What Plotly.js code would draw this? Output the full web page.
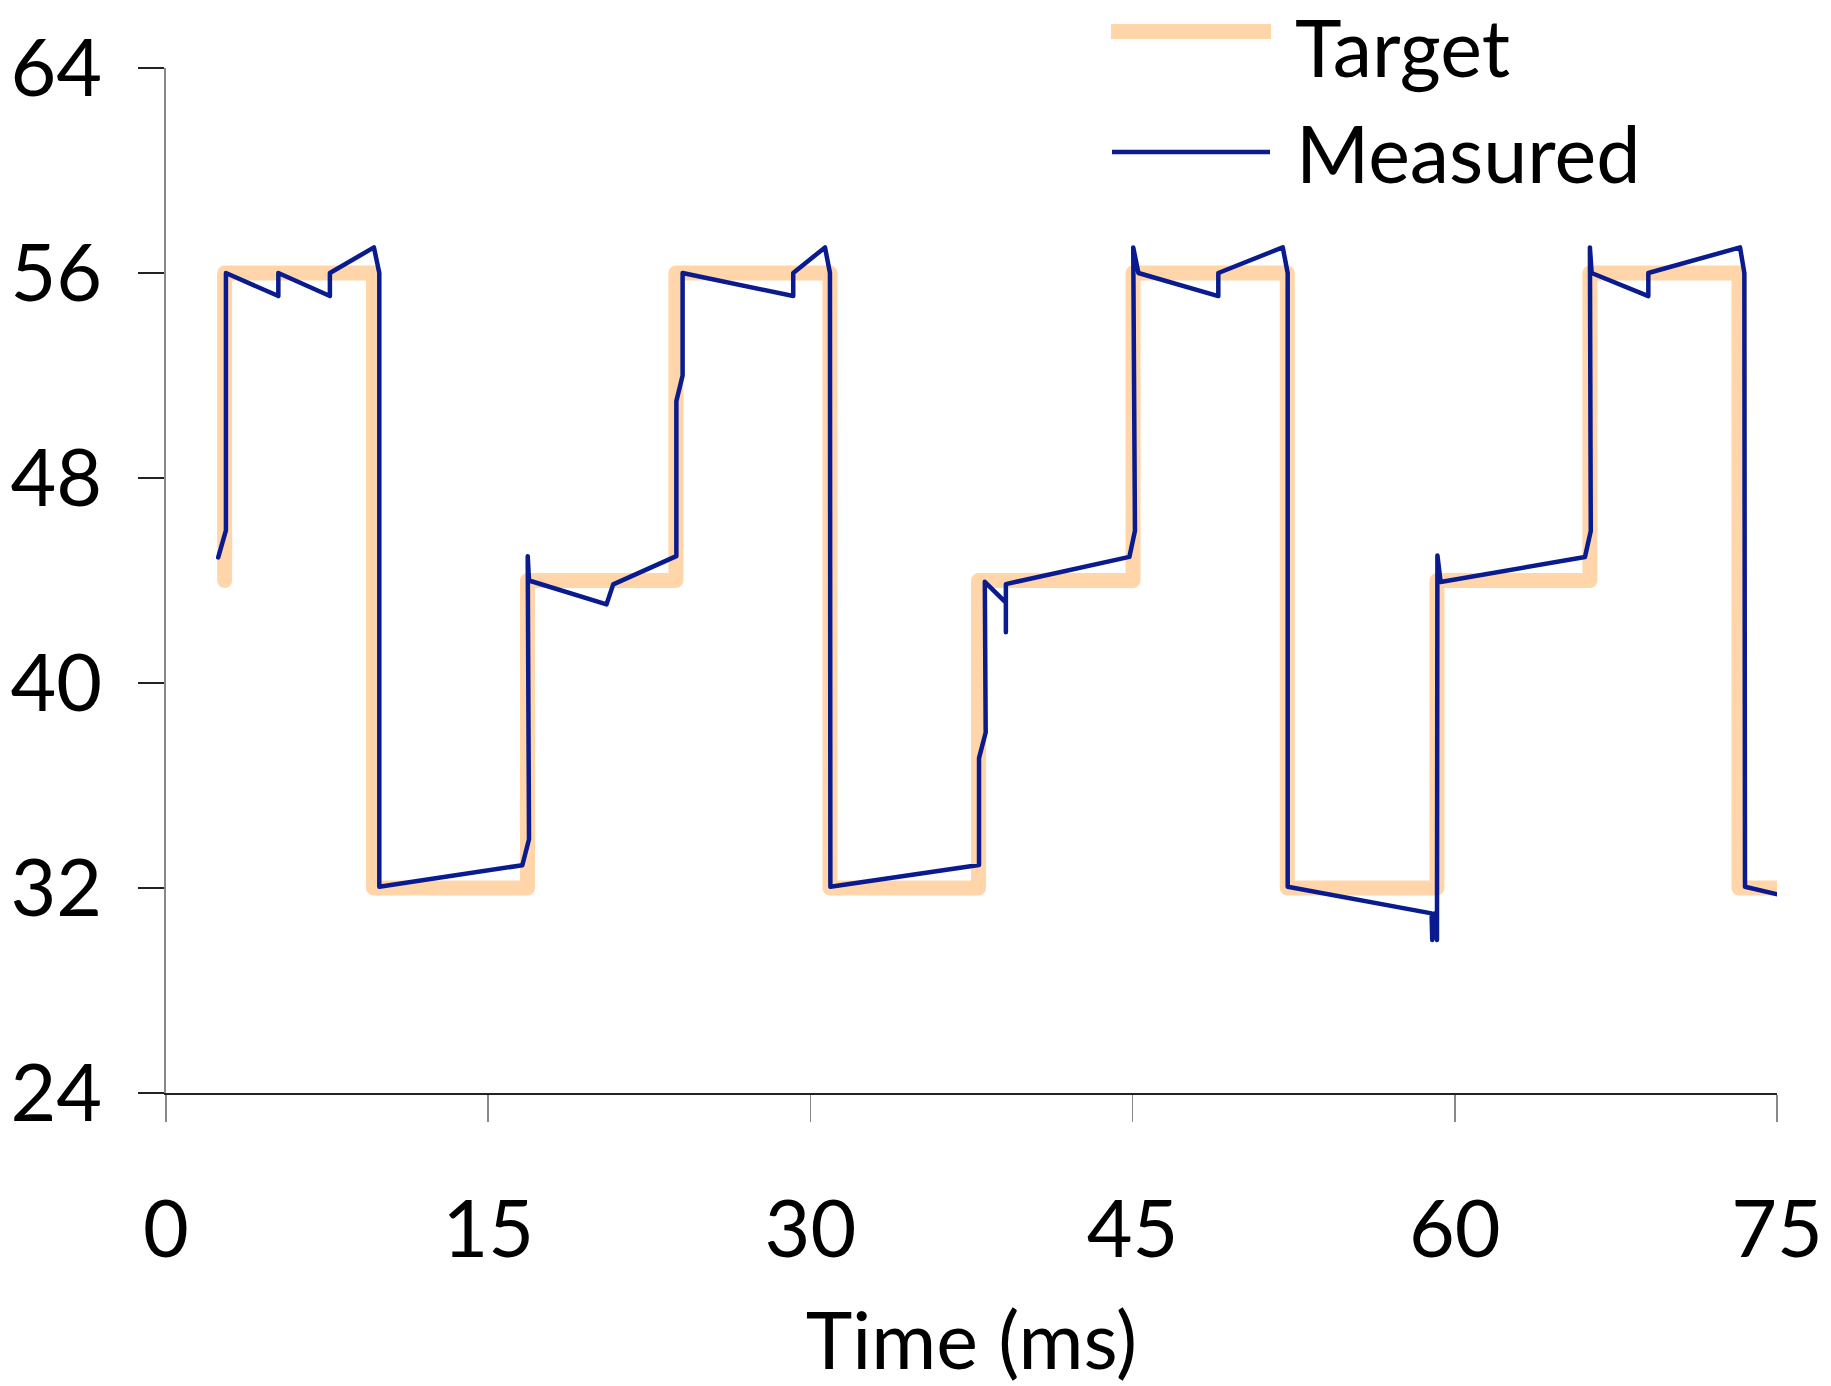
<!DOCTYPE html>
<html>
<head>
<meta charset="utf-8">
<script src="https://cdn.plot.ly/plotly-3.0.1.min.js"></script>
<style>
html, body { margin: 0; padding: 0; background: #ffffff; }
#chart { width: 1831px; height: 1386px; }
.js-line { stroke-linejoin: round !important; stroke-linecap: round !important; }
</style>
</head>
<body>
<div id="chart"></div>
<script>
// ---- data ----
const targetTime  = [2.73, 2.73, 9.66, 9.66, 16.83, 16.83, 23.74, 23.74, 30.91, 30.91, 37.83, 37.83, 45.02, 45.02, 52.2, 52.2, 59.17, 59.17, 66.29, 66.29, 73.23, 73.23, 75.0];
const targetValue = [44, 56, 56, 32, 32, 44, 44, 56, 56, 32, 32, 44, 44, 56, 56, 32, 32, 44, 44, 56, 56, 32, 32];

const measuredTime = [
  2.43, 2.79, 2.79, 5.23, 5.23, 7.63, 7.63, 9.68, 9.93,
  9.93, 16.59, 16.9, 16.84, 16.9,
  20.51, 20.82, 23.76,
  23.76, 24.05, 24.05, 29.2, 29.2, 30.68, 30.91,
  30.93, 37.85, 37.85, 38.16, 38.12, 39.1, 39.1, 39.1,
  44.85, 45.11,
  45.03, 45.27, 48.99, 48.99, 51.99, 52.22,
  52.22, 58.92, 58.95, 59.05, 59.17, 59.19, 59.34,
  66.06, 66.33,
  66.29, 66.37, 69.01, 69.01, 73.28, 73.48,
  73.51, 75.29
];
const measuredValue = [
  44.9, 45.96, 56.0, 55.1, 56.0, 55.1, 56.0, 57.0, 56.0,
  32.05, 32.89, 33.9, 44.95, 44.0,
  43.07, 43.85, 44.95,
  51.0, 52.0, 56.0, 55.1, 56.0, 57.0, 56.0,
  32.05, 32.9, 37.07, 38.07, 43.95, 43.14, 41.98, 43.86,
  44.92, 45.94,
  57.0, 56.0, 55.1, 56.0, 57.0, 56.0,
  32.05, 31.01, 29.97, 31.0, 29.97, 44.98, 43.94,
  44.92, 45.93,
  57.0, 56.0, 55.1, 56.0, 57.0, 56.0,
  32.05, 31.7
];

const xTickVals = [0, 15, 30, 45, 60, 75];
const yTickVals = [24, 32, 40, 48, 56, 64];
const seriesNames = ['Target', 'Measured'];
const xTitle = 'Time (ms)';

// ---- styles ----
const targetColor = '#FFD5A9';
const measuredColor = '#0A1A8F';
const fontFamily = 'Lato, "Open Sans", sans-serif';
const fontSize = 79;

const traces = [
  {
    x: targetTime, y: targetValue, name: seriesNames[0],
    type: 'scatter', mode: 'lines',
    line: { color: targetColor, width: 15 },
    showlegend: false, hoverinfo: 'x+y'
  },
  {
    x: measuredTime, y: measuredValue, name: seriesNames[1],
    type: 'scatter', mode: 'lines',
    line: { color: measuredColor, width: 4.5 },
    showlegend: false, hoverinfo: 'x+y'
  }
];

// plot area in pixels; legend placed relative to it
const plotL = 166, plotR = 1777, plotT = 68, plotB = 1093;
const px2paperX = v => (v - plotL) / (plotR - plotL);
const px2paperY = v => (plotB - v) / (plotB - plotT);

const layout = {
  width: 1831, height: 1386,
  margin: { l: plotL, r: 1831 - plotR, t: plotT, b: 1386 - plotB, pad: 0 },
  paper_bgcolor: '#ffffff', plot_bgcolor: '#ffffff',
  font: { family: fontFamily, size: fontSize, color: '#000000' },
  showlegend: false,
  xaxis: {
    range: [0, 75], tickvals: xTickVals, ticktext: xTickVals.map(String),
    showgrid: false, zeroline: false,
    showline: true, linecolor: '#222222', linewidth: 1.5,
    ticks: 'outside', ticklen: 27, tickwidth: 1.5, tickcolor: '#888888',
    ticklabelstandoff: 41,
    tickfont: { family: fontFamily, size: fontSize, color: '#000000' },
    title: { text: xTitle, font: { family: fontFamily, size: fontSize, color: '#000000' }, standoff: 52 },
    fixedrange: true
  },
  yaxis: {
    range: [24, 64], tickvals: yTickVals, ticktext: yTickVals.map(String),
    showgrid: false, zeroline: false,
    showline: true, linecolor: '#888888', linewidth: 2,
    ticks: 'outside', ticklen: 26, tickwidth: 1.5, tickcolor: '#222222',
    ticklabelstandoff: 20,
    tickfont: { family: fontFamily, size: fontSize, color: '#000000' },
    fixedrange: true
  },
  shapes: [
    { type: 'line', xref: 'paper', yref: 'paper',
      x0: px2paperX(1111), x1: px2paperX(1271), y0: px2paperY(31.5), y1: px2paperY(31.5),
      line: { color: targetColor, width: 15 } },
    { type: 'line', xref: 'paper', yref: 'paper',
      x0: px2paperX(1112), x1: px2paperX(1270), y0: px2paperY(152), y1: px2paperY(152),
      line: { color: measuredColor, width: 4.5 } }
  ],
  annotations: [
    { xref: 'paper', yref: 'paper', x: px2paperX(1293), y: px2paperY(47),
      xanchor: 'left', yanchor: 'middle', showarrow: false, text: seriesNames[0],
      font: { family: fontFamily, size: fontSize, color: '#000000' } },
    { xref: 'paper', yref: 'paper', x: px2paperX(1294), y: px2paperY(153),
      xanchor: 'left', yanchor: 'middle', showarrow: false, text: seriesNames[1],
      font: { family: fontFamily, size: fontSize, color: '#000000' } }
  ]
};

Plotly.newPlot('chart', traces, layout, { displayModeBar: false, staticPlot: true });
</script>
</body>
</html>
